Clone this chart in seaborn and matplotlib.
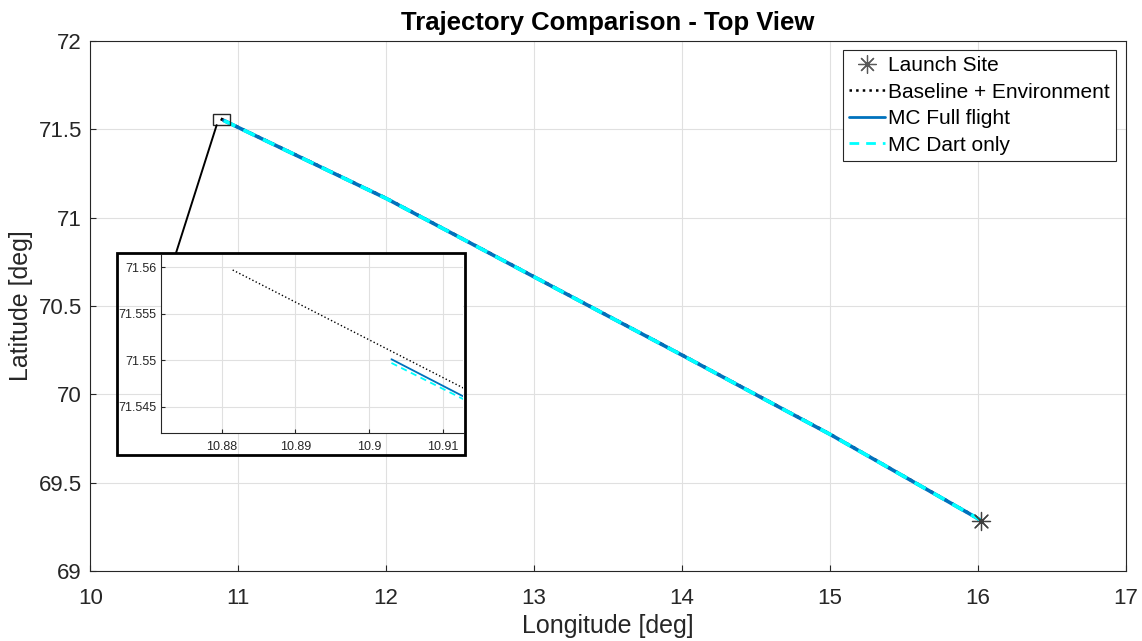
import matplotlib
matplotlib.use("Agg")
import matplotlib.pyplot as plt
import seaborn as sns
import pandas as pd
from matplotlib.lines import Line2D
from matplotlib.patches import Rectangle, ConnectionPatch

# ---------------- data ----------------
launch_lon = [16.02]
launch_lat = [69.285]

base_lon = [10.8815, 10.9125, 11.0, 12.0, 13.0, 14.0, 15.0, 16.0, 16.02]
base_lat = [71.5597, 71.5471, 71.5116, 71.110, 70.666, 70.223, 69.775, 69.298, 69.285]

full_lon = [10.903, 10.9125, 11.0, 12.0, 13.0, 14.0, 15.0, 16.0, 16.02]
full_lat = [71.5501, 71.5462, 71.5107, 71.109, 70.665, 70.222, 69.774, 69.297, 69.285]

dart_lon = [10.903, 10.9125, 11.0, 12.0, 13.0, 14.0, 15.0, 16.0, 16.02]
dart_lat = [71.5497, 71.5459, 71.5104, 71.1087, 70.6648, 70.2218, 69.7738, 69.2968, 69.285]

main_xticks = [10, 11, 12, 13, 14, 15, 16, 17]
main_yticks = [69, 69.5, 70, 70.5, 71, 71.5, 72]
main_ytick_labels = ["69", "69.5", "70", "70.5", "71", "71.5", "72"]
inset_xticks = [10.88, 10.89, 10.9, 10.91]
inset_xtick_labels = ["10.88", "10.89", "10.9", "10.91"]
inset_yticks = [71.545, 71.55, 71.555, 71.56]
inset_ytick_labels = ["71.545", "71.55", "71.555", "71.56"]

labels = ["Launch Site", "Baseline + Environment", "MC Full flight", "MC Dart only"]

# ---------------- style ----------------
sns.set_theme(style="whitegrid")
plt.rcParams["font.family"] = ["Liberation Sans", "DejaVu Sans"]

BLUE = (0.0, 0.447, 0.741)
CYAN = (0.0, 1.0, 1.0)
AXC = (0.15, 0.15, 0.15)
GRID = (0.88, 0.88, 0.88)

fig = plt.figure(figsize=(11.42, 6.41), dpi=100)
fig.patch.set_facecolor("white")
ax = fig.add_axes([0.0791, 0.1092, 0.9067, 0.8268])


def draw_lines(a, lw_base, lw_full, lw_dart):
    sns.lineplot(x=base_lon, y=base_lat, ax=a, sort=False, estimator=None,
                 color="black", linestyle=":", linewidth=lw_base)
    sns.lineplot(x=full_lon, y=full_lat, ax=a, sort=False, estimator=None,
                 color=BLUE, linestyle="-", linewidth=lw_full)
    sns.lineplot(x=dart_lon, y=dart_lat, ax=a, sort=False, estimator=None,
                 color=CYAN, linestyle=(0, (3.5, 2.5)), linewidth=lw_dart)


def style_axes(a, fs, full_box=True):
    a.set_facecolor("white")
    a.grid(True, color=GRID, linewidth=0.8)
    for s in a.spines.values():
        s.set_color(AXC)
        s.set_linewidth(0.8)
    if not full_box:
        a.spines["top"].set_visible(False)
        a.spines["right"].set_visible(False)
    a.tick_params(direction="in", length=4, width=0.8, colors=AXC,
                  labelsize=fs, top=False, right=False, bottom=True, left=True)


draw_lines(ax, 2.2, 2.6, 2.6)
sns.scatterplot(x=launch_lon, y=launch_lat, ax=ax, marker=(8, 2, 0), s=170,
                color=(0.25, 0.25, 0.25), linewidth=0.9, zorder=5)

ax.set_xlim(10, 17)
ax.set_ylim(69, 72)
ax.set_xticks(main_xticks)
ax.set_xticklabels([str(t) for t in main_xticks])
ax.set_yticks(main_yticks)
ax.set_yticklabels(main_ytick_labels)
style_axes(ax, 16)
ax.tick_params(axis="x", pad=12)
ax.tick_params(axis="y", pad=6)
ax.set_xlabel("Longitude [deg]", fontsize=18, color=AXC, labelpad=4)
ax.set_ylabel("Latitude [deg]", fontsize=18, color=AXC, labelpad=4)
ax.set_title("Trajectory Comparison - Top View", fontsize=18.5, fontweight="bold",
             color="black", pad=8)

# zoom rectangle on main axes
ax.add_patch(Rectangle((10.831, 71.524), 0.113, 0.061, fill=False,
                       edgecolor=(0.15, 0.15, 0.15), linewidth=1.0, zorder=6))

# legend
handles = [
    Line2D([], [], marker=(8, 2, 0), markersize=13, linestyle="none",
           color=(0.35, 0.35, 0.35), markeredgewidth=0.9),
    Line2D([], [], color="black", linestyle=":", linewidth=1.8),
    Line2D([], [], color=BLUE, linestyle="-", linewidth=2.0),
    Line2D([], [], color=CYAN, linestyle=(0, (3.5, 2.5)), linewidth=2.0),
]
leg = ax.legend(handles, labels, loc="upper right", bbox_to_anchor=(0.9905, 0.983),
                fontsize=15, frameon=True, fancybox=False, framealpha=1,
                edgecolor=AXC, handlelength=1.75, handletextpad=0.12,
                labelspacing=0.36, borderpad=0.3, borderaxespad=0)
leg.get_frame().set_linewidth(0.8)
for t in leg.get_texts():
    t.set_color("black")

# inset
axin = fig.add_axes([0.141, 0.325, 0.2645, 0.277])
draw_lines(axin, 1.0, 1.3, 1.3)
axin.set_xlim(10.8718, 10.9127)
axin.set_ylim(71.5422, 71.5613)
axin.set_xticks(inset_xticks)
axin.set_xticklabels(inset_xtick_labels)
axin.set_yticks(inset_yticks)
axin.set_yticklabels(inset_ytick_labels)
style_axes(axin, 9, full_box=False)
axin.tick_params(length=3)
axin.tick_params(axis="x", pad=6)
axin.set_xlabel("")
axin.set_ylabel("")

# black frame around inset
fig.add_artist(Rectangle((117 / 1142, 1 - 455 / 641), (465 - 117) / 1142, (455 - 253) / 641,
                         transform=fig.transFigure, fill=False, edgecolor="black",
                         linewidth=2.0, zorder=10))
# connector
con = ConnectionPatch(xyA=(10.854, 71.524), coordsA=ax.transData,
                      xyB=(176 / 1142, 1 - 253 / 641), coordsB=fig.transFigure,
                      color="black", linewidth=1.4)
fig.add_artist(con)

fig.savefig("out.png", dpi=100, facecolor="white")
